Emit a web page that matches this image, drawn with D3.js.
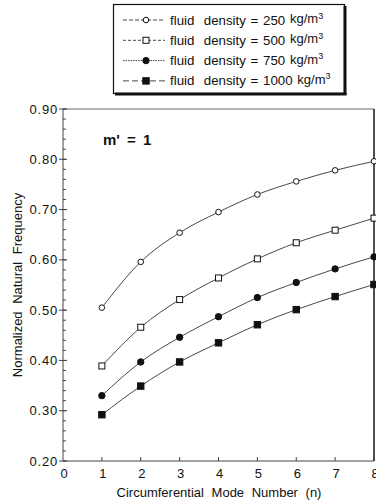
<!DOCTYPE html>
<html><head><meta charset="utf-8">
<script src="https://cdn.jsdelivr.net/npm/d3@7"></script>
<style>
html,body{margin:0;padding:0;background:#fff;}
svg{display:block;font-family:"Liberation Sans",Arial,Helvetica,sans-serif;}
</style></head>
<body><svg id="c" width="376" height="502"></svg>
<script>
const modes = [1,2,3,4,5,6,7,8];
const xTicks = [0,1,2,3,4,5,6,7,8];
const yTicks = [0.20,0.30,0.40,0.50,0.60,0.70,0.80,0.90];
const seriesNames = ["fluid  density = 250", "fluid  density = 500", "fluid  density = 750", "fluid  density = 1000"];
const rho250 = [0.505,0.596,0.654,0.695,0.730,0.756,0.778,0.796];
const rho500 = [0.389,0.466,0.521,0.564,0.602,0.634,0.659,0.683];
const rho750 = [0.330,0.397,0.446,0.487,0.525,0.555,0.582,0.606];
const rho1000 = [0.292,0.349,0.397,0.435,0.471,0.501,0.527,0.551];
const markers = ["circleOpen","squareOpen","circleFilled","squareFilled"];
const legendDash = ["4,2","3,2","1.5,1","6,3"];

const series = [rho250,rho500,rho750,rho1000].map((v,i)=>({name:seriesNames[i],values:v,marker:markers[i],dash:legendDash[i]}));

const svg = d3.select("#c");
const x = d3.scaleLinear().domain([0,8]).range([63,374]);
const y = d3.scaleLinear().domain([0.2,0.9]).range([461,109]);
const ink = "#111";

// frame
svg.append("line").attr("x1",x(0)).attr("x2",x(8)).attr("y1",y(0.9)).attr("y2",y(0.9)).attr("stroke","#666").attr("stroke-width",1);
svg.append("line").attr("x1",x(0)).attr("x2",x(8)).attr("y1",y(0.2)).attr("y2",y(0.2)).attr("stroke","#444").attr("stroke-width",1);
svg.append("line").attr("x1",x(0)).attr("x2",x(0)).attr("y1",y(0.2)).attr("y2",y(0.9)).attr("stroke","#444").attr("stroke-width",1);
svg.append("line").attr("x1",x(8)).attr("x2",x(8)).attr("y1",y(0.2)).attr("y2",y(0.9)).attr("stroke","#222").attr("stroke-width",1.6);

// y axis minor ticks (inside)
const minor = d3.range(0.2,0.9001,0.02);
svg.append("g").selectAll("line").data(minor).join("line")
  .attr("x1",x(0)).attr("x2",x(0)+3).attr("y1",d=>y(d)).attr("y2",d=>y(d))
  .attr("stroke","#444").attr("stroke-width",1);
// major ticks outside
svg.append("g").selectAll("line").data(yTicks).join("line")
  .attr("x1",x(0)-4).attr("x2",x(0)+4).attr("y1",d=>y(d)).attr("y2",d=>y(d))
  .attr("stroke","#444").attr("stroke-width",1);
svg.append("g").selectAll("text").data(yTicks).join("text")
  .attr("x",x(0)-5).attr("y",d=>y(d)+4.5).attr("text-anchor","end")
  .attr("font-size",13).attr("letter-spacing",0.8).attr("fill",ink)
  .text(d=>d3.format(".2f")(d));

// x ticks (inside, upward)
svg.append("g").selectAll("line").data(xTicks.slice(1)).join("line")
  .attr("x1",d=>x(d)).attr("x2",d=>x(d)).attr("y1",y(0.2)).attr("y2",y(0.2)-4)
  .attr("stroke","#444").attr("stroke-width",1);
svg.append("g").selectAll("text").data(xTicks).join("text")
  .attr("x",d=>x(d)+1).attr("y",478).attr("text-anchor","middle")
  .attr("font-size",13).attr("fill",ink).text(d=>d);

// axis titles
svg.append("text").attr("x",219).attr("y",497).attr("text-anchor","middle")
  .attr("font-size",13).attr("word-spacing",4).attr("fill",ink)
  .text("Circumferential Mode Number (n)");
svg.append("text").attr("transform","translate(22,285) rotate(-90)").attr("text-anchor","middle")
  .attr("font-size",13).attr("word-spacing",4).attr("fill",ink)
  .text("Normalized Natural Frequency");

// annotation
svg.append("text").attr("x",103).attr("y",145).attr("font-size",15).attr("font-weight","bold")
  .attr("word-spacing",3).attr("fill",ink).text("m' = 1");

// markers
function drawMarker(g, type, cx, cy){
  if(type.startsWith("circle")){
    g.append("circle").attr("cx",cx).attr("cy",cy).attr("r",type==="circleOpen"?2.8:3.2)
      .attr("fill",type==="circleOpen"?"#fff":ink).attr("stroke",ink).attr("stroke-width",1);
  } else {
    const s = type==="squareOpen"?6:6.4;
    g.append("rect").attr("x",cx-s/2).attr("y",cy-s/2).attr("width",s).attr("height",s)
      .attr("fill",type==="squareOpen"?"#fff":ink).attr("stroke",ink).attr("stroke-width",1);
  }
}

const line = d3.line().x(d=>x(d[0])).y(d=>y(d[1])).curve(d3.curveMonotoneX);
series.forEach(s=>{
  const pts = modes.map((m,i)=>[m,s.values[i]]);
  svg.append("path").attr("d",line(pts)).attr("fill","none").attr("stroke","#333").attr("stroke-width",0.9);
  const g = svg.append("g");
  pts.forEach(p=>drawMarker(g,s.marker,x(p[0]),y(p[1])));
});

// legend
const lg = svg.append("g");
lg.append("rect").attr("x",113.5).attr("y",4.5).attr("width",231).attr("height",89)
  .attr("fill","#fff").attr("stroke",ink).attr("stroke-width",1.2);
lg.append("line").attr("x1",345).attr("x2",345).attr("y1",6).attr("y2",95).attr("stroke",ink).attr("stroke-width",3);
lg.append("line").attr("x1",115).attr("x2",346.5).attr("y1",94).attr("y2",94).attr("stroke",ink).attr("stroke-width",3);
series.forEach((s,i)=>{
  const ry = 20 + i*20.3;
  lg.append("line").attr("x1",123).attr("x2",165).attr("y1",ry).attr("y2",ry)
    .attr("stroke","#333").attr("stroke-width",0.9).attr("stroke-dasharray",s.dash);
  drawMarker(lg,s.marker,146,ry);
  const t = lg.append("text").attr("x",170).attr("y",ry+4.5).attr("font-size",13.3).attr("fill",ink)
    .attr("word-spacing",1).attr("xml:space","preserve").style("white-space","pre");
  t.append("tspan").text(s.name + " ");
  t.append("tspan").attr("dy",-1.5).attr("font-size",13).text("kg/m");
  t.append("tspan").attr("dy",-4.5).attr("font-size",9).text("3");
});
</script></body></html>
